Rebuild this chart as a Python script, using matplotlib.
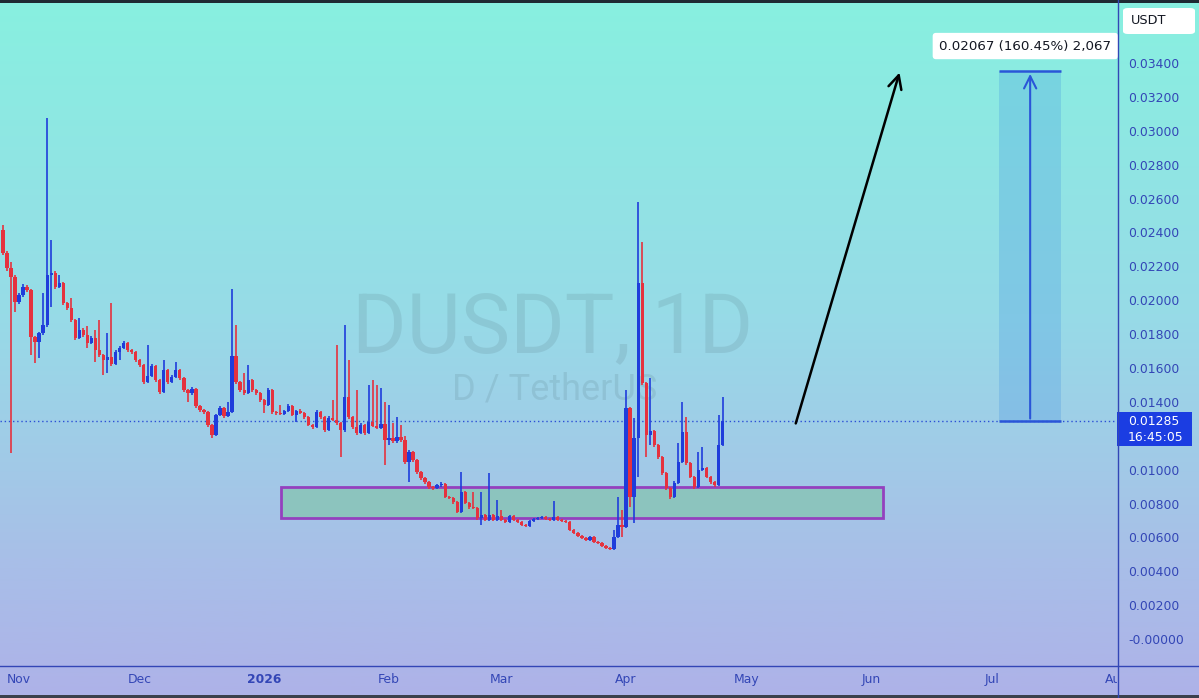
import numpy as np
import matplotlib.pyplot as plt
from matplotlib.patches import Rectangle, FancyBboxPatch
from matplotlib.colors import LinearSegmentedColormap
import matplotlib.transforms as mtransforms

plt.rcParams['font.family'] = ['DejaVu Sans']

# daily candles, day 0 = 1 Nov 2025
days = list(range(-4, 176))
first_open = 0.02414
closes = [
    0.02279, 0.02190, 0.02137, 0.01989, 0.02031, 0.02078, 0.02060, 0.01783, 0.01753, 0.01806,
    0.01853, 0.02149, 0.02160, 0.02078, 0.02101, 0.01983, 0.01954, 0.01883, 0.01777, 0.01824,
    0.01794, 0.01747, 0.01777, 0.01706, 0.01676, 0.01647, 0.01665, 0.01623, 0.01694, 0.01718,
    0.01747, 0.01706, 0.01694, 0.01647, 0.01617, 0.01517, 0.01552, 0.01611, 0.01529, 0.01458,
    0.01588, 0.01517, 0.01547, 0.01588, 0.01541, 0.01470, 0.01452, 0.01476, 0.01375, 0.01352,
    0.01340, 0.01263, 0.01204, 0.01322, 0.01364, 0.01316, 0.01340, 0.01670, 0.01517, 0.01470,
    0.01452, 0.01529, 0.01470, 0.01452, 0.01411, 0.01381, 0.01470, 0.01340, 0.01334, 0.01328,
    0.01346, 0.01375, 0.01322, 0.01346, 0.01334, 0.01310, 0.01263, 0.01251, 0.01340, 0.01310,
    0.01234, 0.01305, 0.01293, 0.01275, 0.01234, 0.01428, 0.01310, 0.01251, 0.01216, 0.01263,
    0.01216, 0.01281, 0.01257, 0.01245, 0.01269, 0.01175, 0.01186, 0.01169, 0.01192, 0.01175,
    0.01045, 0.01104, 0.01057, 0.00986, 0.00950, 0.00927, 0.00897, 0.00891, 0.00909, 0.00915,
    0.00838, 0.00832, 0.00809, 0.00750, 0.00868, 0.00803, 0.00779, 0.00773, 0.00714, 0.00732,
    0.00702, 0.00732, 0.00702, 0.00726, 0.00702, 0.00691, 0.00726, 0.00702, 0.00691, 0.00673,
    0.00667, 0.00697, 0.00708, 0.00714, 0.00720, 0.00708, 0.00702, 0.00720, 0.00702, 0.00697,
    0.00691, 0.00643, 0.00626, 0.00608, 0.00596, 0.00584, 0.00602, 0.00573, 0.00567, 0.00549,
    0.00537, 0.00531, 0.00602, 0.00673, 0.00661, 0.01364, 0.00838, 0.01186, 0.02101, 0.01511,
    0.01204, 0.01228, 0.01145, 0.01074, 0.00980, 0.00891, 0.00838, 0.00921, 0.01045, 0.01222,
    0.01039, 0.00956, 0.00897, 0.00998, 0.01009, 0.00956, 0.00927, 0.00909, 0.01145, 0.01285,
]
highs = [
    0.02444, 0.02290, 0.02225, 0.02150, 0.02045, 0.02095, 0.02090, 0.02065, 0.01790, 0.01815,
    0.02042, 0.03075, 0.02355, 0.02170, 0.02149, 0.02110, 0.01990, 0.02013, 0.01890, 0.01895,
    0.01835, 0.01848, 0.01790, 0.01824, 0.01883, 0.01680, 0.01806, 0.01983, 0.01705, 0.01730,
    0.01760, 0.01755, 0.01712, 0.01700, 0.01652, 0.01622, 0.01735, 0.01625, 0.01618, 0.01535,
    0.01647, 0.01595, 0.01560, 0.01635, 0.01595, 0.01548, 0.01475, 0.01485, 0.01482, 0.01380,
    0.01358, 0.01345, 0.01270, 0.01330, 0.01375, 0.01370, 0.01399, 0.02066, 0.01853, 0.01525,
    0.01570, 0.01617, 0.01535, 0.01478, 0.01458, 0.01418, 0.01480, 0.01478, 0.01346, 0.01381,
    0.01352, 0.01385, 0.01380, 0.01352, 0.01358, 0.01340, 0.01315, 0.01268, 0.01350, 0.01346,
    0.01315, 0.01315, 0.01411, 0.01735, 0.01280, 0.01853, 0.01647, 0.01315, 0.01470, 0.01275,
    0.01270, 0.01499, 0.01529, 0.01499, 0.01482, 0.01399, 0.01381, 0.01275, 0.01310, 0.01263,
    0.01200, 0.01115, 0.01110, 0.01065, 0.00992, 0.00958, 0.00935, 0.00905, 0.00918, 0.00925,
    0.00920, 0.00845, 0.00838, 0.00815, 0.00986, 0.00875, 0.00810, 0.00868, 0.00780, 0.00868,
    0.00740, 0.00980, 0.00740, 0.00820, 0.00761, 0.00708, 0.00735, 0.00732, 0.00708, 0.00695,
    0.00680, 0.00705, 0.00715, 0.00722, 0.00728, 0.00728, 0.00715, 0.00815, 0.00728, 0.00710,
    0.00705, 0.00698, 0.00650, 0.00632, 0.00615, 0.00602, 0.00610, 0.00608, 0.00580, 0.00573,
    0.00555, 0.00542, 0.00643, 0.00838, 0.00761, 0.01470, 0.01370, 0.01305, 0.02580, 0.02343,
    0.01520, 0.01541, 0.01235, 0.01150, 0.01080, 0.00985, 0.00895, 0.00930, 0.01157, 0.01399,
    0.01310, 0.01045, 0.00962, 0.01104, 0.01133, 0.01015, 0.00962, 0.00932, 0.01322, 0.01428,
]
lows = [
    0.02267, 0.02170, 0.01098, 0.01930, 0.01975, 0.02020, 0.02050, 0.01676, 0.01629, 0.01659,
    0.01795, 0.01840, 0.01960, 0.02065, 0.02070, 0.01970, 0.01940, 0.01870, 0.01765, 0.01770,
    0.01780, 0.01718, 0.01740, 0.01635, 0.01665, 0.01558, 0.01570, 0.01610, 0.01615, 0.01647,
    0.01710, 0.01695, 0.01685, 0.01635, 0.01605, 0.01505, 0.01510, 0.01545, 0.01520, 0.01445,
    0.01452, 0.01505, 0.01510, 0.01540, 0.01530, 0.01460, 0.01399, 0.01440, 0.01365, 0.01340,
    0.01330, 0.01250, 0.01186, 0.01198, 0.01315, 0.01305, 0.01310, 0.01334, 0.01505, 0.01460,
    0.01440, 0.01445, 0.01460, 0.01440, 0.01400, 0.01334, 0.01375, 0.01330, 0.01325, 0.01320,
    0.01322, 0.01340, 0.01315, 0.01281, 0.01328, 0.01300, 0.01255, 0.01240, 0.01245, 0.01300,
    0.01225, 0.01228, 0.01285, 0.01265, 0.01074, 0.01225, 0.01300, 0.01240, 0.01205, 0.01210,
    0.01205, 0.01210, 0.01250, 0.01238, 0.01240, 0.01027, 0.01145, 0.01160, 0.01160, 0.01165,
    0.01035, 0.00927, 0.01045, 0.00975, 0.00940, 0.00918, 0.00888, 0.00882, 0.00885, 0.00900,
    0.00830, 0.00825, 0.00800, 0.00742, 0.00742, 0.00795, 0.00770, 0.00765, 0.00705, 0.00673,
    0.00695, 0.00695, 0.00695, 0.00695, 0.00695, 0.00685, 0.00685, 0.00695, 0.00685, 0.00665,
    0.00660, 0.00660, 0.00690, 0.00700, 0.00708, 0.00700, 0.00695, 0.00695, 0.00695, 0.00690,
    0.00684, 0.00635, 0.00618, 0.00600, 0.00588, 0.00576, 0.00578, 0.00565, 0.00560, 0.00542,
    0.00530, 0.00525, 0.00525, 0.00595, 0.00602, 0.00655, 0.00779, 0.00685, 0.00956, 0.01500,
    0.01074, 0.01145, 0.01135, 0.01065, 0.00970, 0.00882, 0.00828, 0.00830, 0.00915, 0.01040,
    0.01030, 0.00948, 0.00888, 0.00890, 0.00990, 0.00948, 0.00918, 0.00900, 0.00905, 0.01140,
]
opens = [first_open] + closes[:-1]

last_price = 0.01285
countdown = '16:45:05'
move = 0.02067
move_label = '0.02067 (160.45%) 2,067'

# support zone and drawings (day, price)
zone_days = (65.2, 214.9)
zone_prices = (0.00714, 0.00897)
arrow_start = (193.0, 0.01257)
arrow_end = (219.2, 0.03359)
measure_days = (243.8, 259.2)

month_pos = [0, 30, 61, 92, 120, 151, 181, 212, 242, 273]
month_labels = ['Nov', 'Dec', '2026', 'Feb', 'Mar', 'Apr', 'May', 'Jun', 'Jul', 'Aug']
price_ticks = [i * 0.002 for i in range(18)]
# 0.01200 sits under the last price tag, so it is left blank
price_labels = ['-0.00000'] + ['' if i == 6 else '%.5f' % p
                               for i, p in enumerate(price_ticks) if i > 0]

RED = '#E5323E'
BLUE = '#1F3DDB'
AXIS_C = '#3346B6'

W, H = 1199, 698
fig = plt.figure(figsize=(W / 100, H / 100), dpi=100)

# background gradient
bg = fig.add_axes([0, 0, 1, 1], zorder=-10)
cmap = LinearSegmentedColormap.from_list('bg', [(0, '#88F0E0'), (0.45, '#97DBE7'),
                                                (0.8, '#A8BFE8'), (1, '#AEB2E8')])
bg.imshow(np.linspace(0, 1, 256).reshape(-1, 1), aspect='auto', cmap=cmap,
          extent=[0, 1, 0, 1], origin='upper')
bg.set_axis_off()

ax = fig.add_axes([0, 32 / H, 1117 / W, 663 / H])
ax.set_facecolor('none')
ax.set_xlim(-4.73, 273.1)
ax.set_ylim(-0.00159, 0.03754)
for s in ax.spines.values():
    s.set_visible(False)

# watermark
ax.text(82.8, 0.01694, 'DUSDT, 1D', fontsize=60, family='Roboto', color='#50707c',
        alpha=0.16, ha='left', va='baseline', zorder=1)
ax.text(107.7, 0.01411, 'D / TetherUS', fontsize=26, family='Roboto', color='#50707c',
        alpha=0.16, ha='left', va='baseline', zorder=1)

# zone
ax.add_patch(Rectangle((zone_days[0], zone_prices[0]), zone_days[1] - zone_days[0],
                       zone_prices[1] - zone_prices[0], facecolor=(0.49, 0.77, 0.64, 0.6),
                       edgecolor='#9440BE', lw=2, zorder=2))

# candles
o = np.array(opens)
c = np.array(closes)
col = np.where(c >= o, BLUE, RED)
ax.vlines(days, lows, highs, colors=col, lw=1.2, zorder=3)
ax.bar(days, np.maximum(np.abs(c - o), 0.00008), bottom=np.minimum(o, c), width=0.82,
       color=col, linewidth=0, zorder=4)

# last price line
ax.axhline(last_price, color='#2B4FD6', lw=1, ls=(0, (1, 2)), zorder=2)

# trend arrow
ax.annotate('', xy=arrow_end, xytext=arrow_start,
            arrowprops=dict(arrowstyle='->', color='black', lw=1.8, mutation_scale=24),
            zorder=5)

# price range measure
top = last_price + move
ax.add_patch(Rectangle((measure_days[0], last_price), measure_days[1] - measure_days[0],
                       move, facecolor='#3D8FE0', alpha=0.25, lw=0, zorder=2))
ax.hlines([last_price, top], measure_days[0], measure_days[1], color='#2A55D8', lw=1.8, zorder=3)
mid = (measure_days[0] + measure_days[1]) / 2
ax.annotate('', xy=(mid, top), xytext=(mid, last_price),
            arrowprops=dict(arrowstyle='->', color='#2A55D8', lw=1.5, mutation_scale=22),
            zorder=5)
ax.text(250.3, 0.0350, move_label, ha='center', va='center', fontsize=9.6, color='#131722',
        bbox=dict(boxstyle='round,pad=0.5,rounding_size=0.25', fc='white', ec='none'),
        zorder=6)

# right price scale
ax.yaxis.tick_right()
ax.set_yticks(price_ticks)
ax.set_yticklabels(price_labels)
ax.tick_params(axis='y', length=0, pad=8, labelsize=8.9, labelcolor=AXIS_C)
ax.set_xticks([])

# last price tag
blend = mtransforms.blended_transform_factory(ax.transAxes, ax.transData)
ax.add_patch(Rectangle((1.0, 0.01139), 75 / 1117, 0.00201, transform=blend,
                       facecolor='#1B3DE2', edgecolor='none', clip_on=False, zorder=10))
ax.text(1128 / 1117, last_price, '%.5f' % last_price, transform=blend, color='white',
        fontsize=8.9, ha='left', va='center', clip_on=False, zorder=11)
ax.text(1128 / 1117, 0.01192, countdown, transform=blend, color='white',
        fontsize=8.9, ha='left', va='center', clip_on=False, zorder=11)

# time scale strip
tax = fig.add_axes([0, 3 / H, 1117 / W, 29 / H])
tax.set_facecolor('none')
tax.set_xlim(ax.get_xlim())
tax.set_ylim(0, 1)
tax.set_axis_off()
for d, lab in zip(month_pos, month_labels):
    tax.text(d, 0.52, lab, ha='center', va='center', fontsize=8.9, color=AXIS_C,
             fontweight='bold' if lab == '2026' else 'normal', clip_on=True)

# scale lines and frame
fig.add_artist(plt.Line2D([0, 1], [32 / H, 32 / H], color=AXIS_C, lw=1))
fig.add_artist(plt.Line2D([1117.5 / W, 1117.5 / W], [0, 1], color=AXIS_C, lw=1))
fig.add_artist(Rectangle((0, 1 - 3 / H), 1, 3 / H, transform=fig.transFigure,
                         facecolor='#1E2A33', edgecolor='none'))
fig.add_artist(Rectangle((0, 0), 1, 3 / H, transform=fig.transFigure,
                         facecolor='#3B404C', edgecolor='none'))

# currency tag
fig.add_artist(FancyBboxPatch((1123 / W, 1 - 34 / H), 72 / W, 26 / H,
                              boxstyle='round,pad=0,rounding_size=0.004',
                              transform=fig.transFigure, facecolor='white', edgecolor='none'))
fig.text(1131 / W, 1 - 21 / H, 'USDT', fontsize=9.3, color='#131722', ha='left', va='center')

fig.savefig('out.png', dpi=100)
